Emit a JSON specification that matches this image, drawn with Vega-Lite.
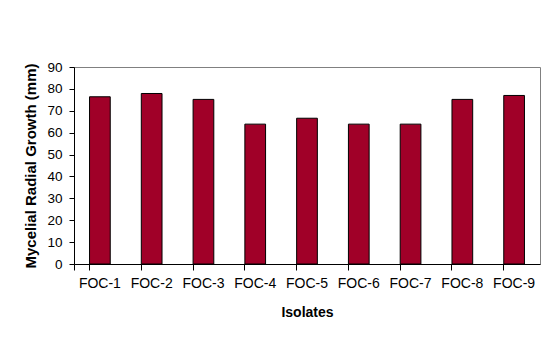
{
  "$schema": "https://vega.github.io/schema/vega-lite/v6.json",
  "autosize": {"type": "none"},
  "padding": {"left": 74, "top": 67, "right": 10, "bottom": 81},
  "width": 466,
  "height": 197,
  "background": "white",
  "config": {
    "view": {"stroke": "#808080", "strokeWidth": 1},
    "font": "Liberation Sans"
  },
  "data": {
    "values": [
      {"isolate": "FOC-1", "growth": 76.4},
      {"isolate": "FOC-2", "growth": 77.9},
      {"isolate": "FOC-3", "growth": 75.2},
      {"isolate": "FOC-4", "growth": 63.9},
      {"isolate": "FOC-5", "growth": 66.6},
      {"isolate": "FOC-6", "growth": 63.9},
      {"isolate": "FOC-7", "growth": 63.9},
      {"isolate": "FOC-8", "growth": 75.2},
      {"isolate": "FOC-9", "growth": 77.0}
    ]
  },
  "mark": {"type": "bar", "fill": "#A00028", "stroke": "#000000", "strokeWidth": 1},
  "encoding": {
    "x": {
      "field": "isolate",
      "type": "nominal",
      "sort": null,
      "scale": {"paddingInner": 0.6, "paddingOuter": 0.3},
      "axis": {
        "title": "Isolates",
        "labelAngle": 0,
        "labelFont": "Liberation Sans",
        "labelFontSize": 14,
        "labelColor": "#000000",
        "labelPadding": 6,
        "ticks": true,
        "bandPosition": 0,
        "tickExtra": true,
        "tickSize": 6,
        "tickWidth": 1,
        "tickColor": "#000000",
        "domainColor": "#000000",
        "titleFont": "Liberation Sans",
        "titleFontSize": 14,
        "titleFontWeight": "bold",
        "titleColor": "#000000",
        "titlePadding": 15
      }
    },
    "y": {
      "field": "growth",
      "type": "quantitative",
      "scale": {"domain": [0, 90], "nice": false},
      "axis": {
        "title": "Mycelial Radial Growth (mm)",
        "values": [0, 10, 20, 30, 40, 50, 60, 70, 80, 90],
        "grid": false,
        "labelFont": "Liberation Sans",
        "labelFontSize": 13.5,
        "labelColor": "#000000",
        "labelPadding": 7,
        "tickSize": 5,
        "tickColor": "#000000",
        "domainColor": "#000000",
        "titleFont": "Liberation Sans",
        "titleFontSize": 15,
        "titleFontWeight": "bold",
        "titleColor": "#000000",
        "titlePadding": 8
      }
    }
  }
}
